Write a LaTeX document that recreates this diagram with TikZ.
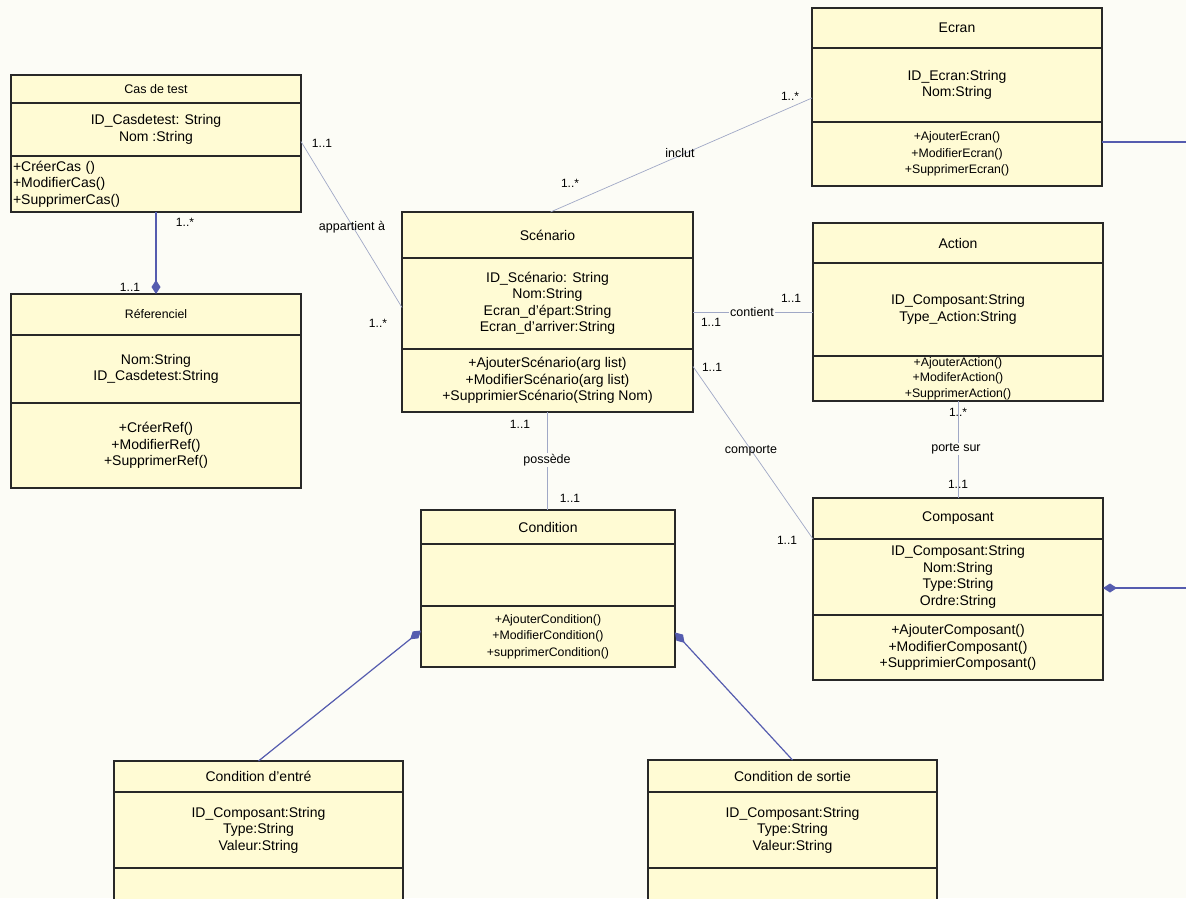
\documentclass[tikz,border=0pt]{standalone}
\usepackage{fontspec}
\setmainfont{Liberation Sans}
\usetikzlibrary{arrows.meta, positioning}

\definecolor{boxfill}{RGB}{255,251,212}
\definecolor{boxline}{RGB}{40,40,40}
\definecolor{assocline}{RGB}{160,168,198}
\definecolor{compoline}{RGB}{85,92,175}
\definecolor{paper}{RGB}{252,252,246}

\begin{document}
\begin{tikzpicture}[
    x=1pt, y=-1pt,
    % compartiments des classes
    cpart/.style={rectangle, draw=boxline, fill=boxfill, line width=1.3pt, outer sep=0pt, inner sep=0pt, align=center, font=\fontsize{14}{16.5}\selectfont},
    smalltxt/.style={font=\fontsize{12.3}{16.5}\selectfont},
    cw/.style={minimum width=#1},
    ch/.style={minimum height=#1},
    % textes des associations
    mult/.style={font=\fontsize{12}{14}\selectfont, inner sep=1pt},
    lbl/.style={font=\fontsize{12.5}{14}\selectfont, inner sep=1pt},
    % liens
    assoc/.style={draw=assocline, line width=0.7pt},
    compo/.style={draw=compoline, line width=1.2pt},
    compod/.style={compo, -{Diamond[length=14pt, width=9pt]}}
]

\useasboundingbox (0,0) rectangle (1186,898);
\fill[paper] (0,0) rectangle (1186,898);
\clip (0,0) rectangle (1186,898);

% Cas de test
\node (cas) [cpart, cw=290pt, ch=28pt, anchor=north west, font=\fontsize{12.5}{15}\selectfont] at (11,75) {Cas de test};
\node (cas-a) [cpart, cw=290pt, ch=53pt, below=0pt of cas] {ID\_Casdetest: String\\Nom :String};
\node (cas-m) [cpart, cw=290pt, ch=56pt, below=0pt of cas-a, text width=286pt, align=left] {+CréerCas ()\\+ModifierCas()\\+SupprimerCas()};

% Réferenciel
\node (ref) [cpart, cw=290pt, ch=41pt, anchor=north west, font=\fontsize{12.3}{15}\selectfont] at (11,294) {Réferenciel};
\node (ref-a) [cpart, cw=290pt, ch=68pt, below=0pt of ref] {Nom:String\\ID\_Casdetest:String};
\node (ref-m) [cpart, cw=290pt, ch=85pt, below=0pt of ref-a] {+CréerRef()\\+ModifierRef()\\+SupprimerRef()};

% Scénario
\node (scen) [cpart, cw=291pt, ch=46pt, anchor=north west] at (402,212) {Scénario};
\node (scen-a) [cpart, cw=291pt, ch=91pt, below=0pt of scen] {ID\_Scénario: String\\Nom:String\\Ecran\_d'épart:String\\Ecran\_d'arriver:String};
\node (scen-m) [cpart, cw=291pt, ch=63pt, below=0pt of scen-a] {+AjouterScénario(arg list)\\+ModifierScénario(arg list)\\+SupprimierScénario(String Nom)};

% Ecran
\node (ecr) [cpart, cw=290pt, ch=40pt, anchor=north west] at (812,8) {Ecran};
\node (ecr-a) [cpart, cw=290pt, ch=74pt, below=0pt of ecr] {ID\_Ecran:String\\Nom:String};
\node (ecr-m) [cpart, cw=290pt, ch=64pt, below=0pt of ecr-a, smalltxt] {+AjouterEcran()\\+ModifierEcran()\\+SupprimerEcran()};

% Action
\node (act) [cpart, cw=290pt, ch=40pt, anchor=north west] at (813,223) {Action};
\node (act-a) [cpart, cw=290pt, ch=93pt, below=0pt of act] {ID\_Composant:String\\Type\_Action:String};
\node (act-m) [cpart, cw=290pt, ch=45pt, below=0pt of act-a, font=\fontsize{12.3}{15.5}\selectfont] {+AjouterAction()\\+ModiferAction()\\+SupprimerAction()};

% Composant
\node (comp) [cpart, cw=290pt, ch=41pt, anchor=north west] at (813,498) {Composant};
\node (comp-a) [cpart, cw=290pt, ch=76pt, below=0pt of comp] {ID\_Composant:String\\Nom:String\\Type:String\\Ordre:String};
\node (comp-m) [cpart, cw=290pt, ch=65pt, below=0pt of comp-a] {+AjouterComposant()\\+ModifierComposant()\\+SupprimierComposant()};

% Condition
\node (cond) [cpart, cw=254pt, ch=34pt, anchor=north west] at (421,510) {Condition};
\node (cond-a) [cpart, cw=254pt, ch=62pt, below=0pt of cond] {};
\node (cond-m) [cpart, cw=254pt, ch=61pt, below=0pt of cond-a, smalltxt] {+AjouterCondition()\\+ModifierCondition()\\+supprimerCondition()};

% Condition d'entré
\node (conde) [cpart, cw=289pt, ch=31pt, anchor=north west] at (114,761) {Condition d'entré};
\node (conde-a) [cpart, cw=289pt, ch=76pt, below=0pt of conde] {ID\_Composant:String\\Type:String\\Valeur:String};
\node (conde-m) [cpart, cw=289pt, ch=62pt, below=0pt of conde-a] {};

% Condition de sortie
\node (conds) [cpart, cw=289pt, ch=32pt, anchor=north west] at (648,760) {Condition de sortie};
\node (conds-a) [cpart, cw=289pt, ch=76pt, below=0pt of conds] {ID\_Composant:String\\Type:String\\Valeur:String};
\node (conds-m) [cpart, cw=289pt, ch=62pt, below=0pt of conds-a] {};

% compositions
\draw [compod] (cas-m.south) -- (ref.north);
\draw [compod] (conde.north) -- ([yshift=6pt]cond-m.west);
\draw [compod] (conds.north) -- ([yshift=4pt]cond-m.east);
\coordinate (bord-e) at (1190,142);
\coordinate (bord-c) at (1190,588);
\draw [compo] ([yshift=12pt]ecr-m.east) -- (bord-e);
\draw [compod] (bord-c) -- ([yshift=-11pt]comp-a.east);

% associations
\draw [assoc] ([yshift=-12pt]cas-a.east) -- ([yshift=-4pt]scen-a.west);
\draw [assoc] ([xshift=3pt]scen.north) -- ([yshift=-13pt]ecr-a.west);
\coordinate (contient-g) at ([yshift=-9pt]scen-a.east);
\draw [assoc] (contient-g) -- (contient-g -| act-a.west);
\draw [assoc] ([yshift=14pt]scen-m.east) -- (comp.south west);
\draw [assoc] (act-m.south) -- (comp.north);
\draw [assoc] (scen-m.south) -- (scen-m.south |- cond.north);

% multiplicites et noms
\node (m-cas1) [mult] at (185,222) {1..*};
\node (m-ref1) [mult] at (130,287) {1..1};
\node (m-cas2) [mult] at (322,143) {1..1};
\node (l-app) [lbl] at (352,227) {appartient à};
\node (m-scen1) [mult] at (378,323) {1..*};
\node (m-scen2) [mult] at (570,183) {1..*};
\node (l-inc) [lbl] at (680,153) {inclut};
\node (m-ecr) [mult] at (790,96) {1..*};
\node (m-scen3) [mult] at (711,322) {1..1};
\node (l-cont) [lbl, fill=paper] at (752,312) {contient};
\node (m-act1) [mult] at (791,298) {1..1};
\node (m-scen4) [mult] at (712,367) {1..1};
\node (l-comp) [lbl] at (751,451) {comporte};
\node (m-comp1) [mult] at (787,540) {1..1};
\node (m-act2) [mult] at (958,412) {1..*};
\node (l-porte) [lbl, fill=paper] at (956,449) {porte sur};
\node (m-comp2) [mult] at (958,484) {1..1};
\node (m-scen5) [mult] at (520,424) {1..1};
\node (l-poss) [lbl, fill=paper] at (547,460) {possède};
\node (m-cond) [mult] at (570,498) {1..1};

\end{tikzpicture}
\end{document}
